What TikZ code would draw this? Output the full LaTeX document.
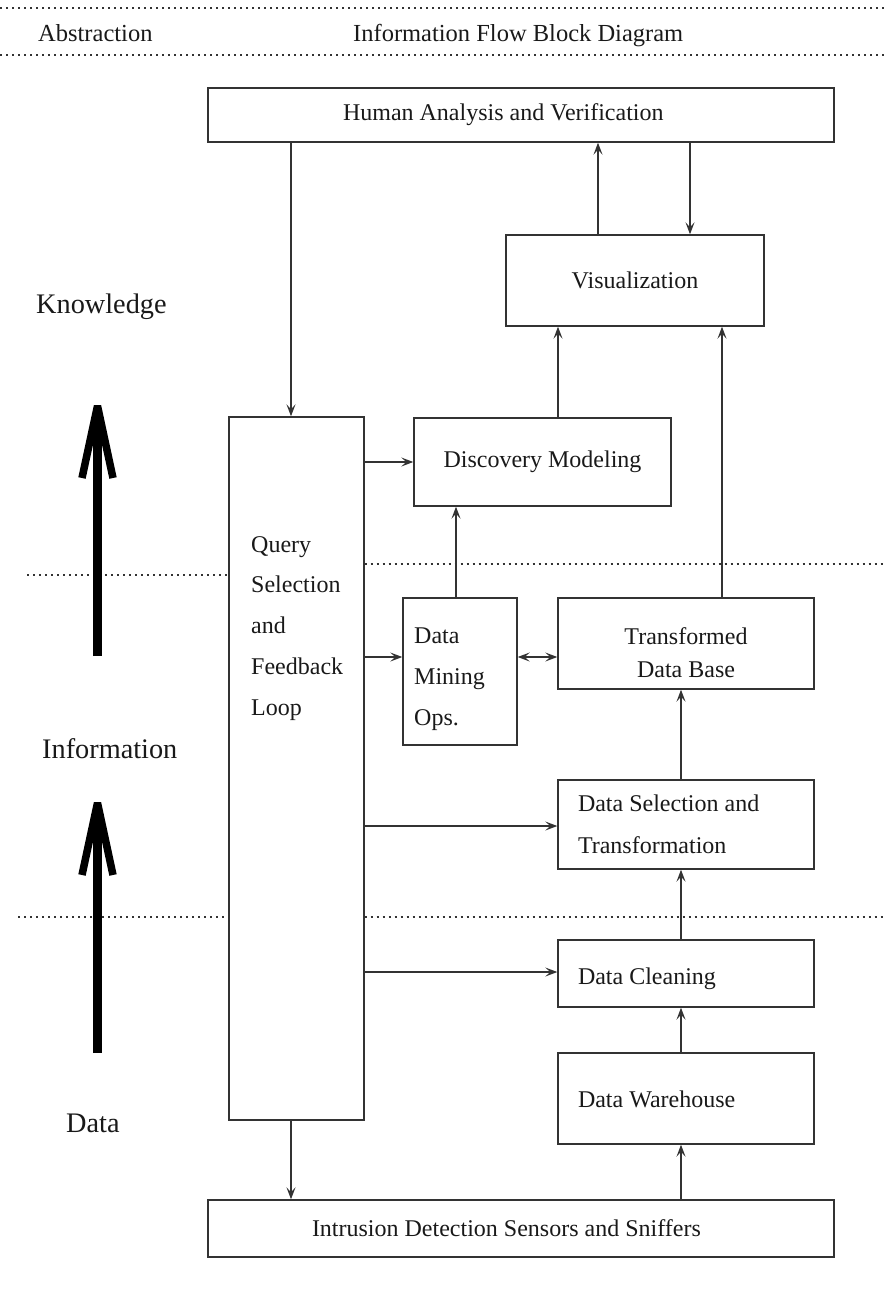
\documentclass[tikz,border=0pt]{standalone}
\usepackage{fontspec}
\setmainfont{Liberation Serif}
\usetikzlibrary{arrows.meta,calc}

\begin{document}
\begin{tikzpicture}[x=1pt,y=-1pt,
  every node/.style={text=black!90},
  tip/.tip={Stealth[length=12pt,width=9pt,inset=5pt]},
  blk/.style={draw=black!80, line width=1.4pt, rectangle, inner sep=0pt,
    font=\fontsize{24}{41}\selectfont},
  lblk/.style={blk, align=flush left},
  cblk/.style={blk, align=center},
  txt/.style={inner sep=0pt, font=\fontsize{24}{41}\selectfont},
  arr/.style={draw=black!80, line width=1.4pt, -tip},
  darr/.style={draw=black!80, line width=1.4pt, tip-tip},
  sep/.style={draw=black!80, line width=1.6pt, dash pattern=on 2.4pt off 3.6pt},
  bigshaft/.style={draw=black, line width=8.5pt, line cap=butt},
  bighead/.style={draw=black, line width=7.5pt, line cap=butt, line join=bevel},
  level/.style={font=\fontsize{28.3}{34}\selectfont, anchor=base west, inner sep=0pt},
  head/.style={font=\fontsize{24.5}{28}\selectfont, anchor=base west, inner sep=0pt}
]
\useasboundingbox (0,0) rectangle (885,1296);

% header rules and titles
\coordinate (hl0) at (0,8);   \coordinate (hr0) at (885,8);
\coordinate (hl1) at (0,55);  \coordinate (hr1) at (885,55);
\draw[sep] (hl0) -- (hr0);
\draw[sep] (hl1) -- (hr1);
\node[head] (habs) at (38,41) {Abstraction};
\node[head] (hifd) at (353,41) {Information Flow Block Diagram};

% blocks
\node[lblk, minimum width=626, minimum height=54, text width=356,
  inner xsep=135pt] (human) at (521,115) {Human Analysis and Verification};
\node[cblk, minimum width=258, minimum height=91, text height=19pt,
  text depth=4pt] (vis) at (635,280.5) {Visualization};
\node[cblk, minimum width=257, minimum height=88] (disc) at (542.5,462)
  {Discovery Modeling};
\node[blk, minimum width=135, minimum height=703] (query) at (296.5,768.5) {};
\node[txt, align=left, anchor=north west,
  font=\fontsize{24}{40.8}\selectfont] (qtext) at (251,536)
  {Query\\Selection\\and\\Feedback\\Loop};
\node[blk, minimum width=114, minimum height=147] (mining) at (460,671.5) {};
\node[txt, align=left, anchor=north west] (mtext) at (414,628)
  {Data\\Mining\\Ops.};
\node[blk, minimum width=256, minimum height=91] (tdb) at (686,643.5) {};
\node[txt, align=center, font=\fontsize{24}{33}\selectfont] (ttext)
  at ($(tdb.center)+(0,9)$) {Transformed\\Data Base};
\node[lblk, minimum width=256, minimum height=89, text width=216,
  inner xsep=20pt, font=\fontsize{24}{42}\selectfont] (dsel) at (686,824.5)
  {Data Selection and\\Transformation};
\node[lblk, minimum width=256, minimum height=67, text width=216,
  inner xsep=20pt, text height=22pt, text depth=0pt] (dclean) at (686,973.5)
  {Data Cleaning};
\node[lblk, minimum width=256, minimum height=91, text width=216,
  inner xsep=20pt, text height=20pt, text depth=2pt] (dware) at (686,1098.5)
  {Data Warehouse};
\node[lblk, minimum width=626, minimum height=57, text width=418,
  inner xsep=104pt] (ids) at (521,1228.5)
  {Intrusion Detection Sensors and Sniffers};

% level separators
\coordinate (s1a) at (27,575);  \coordinate (s1b) at (885,564);
\coordinate (s2a) at (18,917);  \coordinate (s2b) at (885,917);
\draw[sep] (s1a) -- (s1a -| query.west);
\draw[sep] (query.east |- s1b) -- (s1b);
\draw[sep] (s2a) -- (s2a -| query.west);
\draw[sep] (query.east |- s2b) -- (s2b);

% abstraction levels
\node[level] (lknow) at (36,313) {Knowledge};
\node[level] (linfo) at (42,758) {Information};
\node[level] (ldata) at (66,1132) {Data};

% thick upward arrows
\coordinate (a1b) at (97.5,656);  \coordinate (a1t) at (97.5,406);
\coordinate (a1l) at (82,478);    \coordinate (a1r) at (113,478);
\draw[bigshaft] (a1b) -- ($(a1t)+(0,6)$);
\draw[bighead] (a1l) -- (a1t) -- (a1r);
\coordinate (a2b) at (97.5,1053); \coordinate (a2t) at (97.5,803);
\coordinate (a2l) at (82,875);    \coordinate (a2r) at (113,875);
\draw[bigshaft] (a2b) -- ($(a2t)+(0,6)$);
\draw[bighead] (a2l) -- (a2t) -- (a2r);

% connector columns and rows
\coordinate (xq) at (291,0);
\coordinate (xv1) at (598,0);
\coordinate (xv2) at (690,0);
\coordinate (xd) at (558,0);
\coordinate (xt) at (722,0);
\coordinate (xm) at (456,0);
\coordinate (xr) at (681,0);
\coordinate (ym) at (0,657);
\coordinate (ys) at (0,826);
\coordinate (yc) at (0,972);

% information flow
\draw[arr] (human.south -| xq) -- (query.north -| xq);
\draw[arr] (vis.north -| xv1) -- (human.south -| xv1);
\draw[arr] (human.south -| xv2) -- (vis.north -| xv2);
\draw[arr] (disc.north -| xd) -- (vis.south -| xd);
\draw[arr] (tdb.north -| xt) -- (vis.south -| xt);
\draw[arr] (disc.west -| query.east) -- (disc.west);
\draw[arr] (mining.north -| xm) -- (disc.south -| xm);
\draw[arr] (query.east |- ym) -- (mining.west |- ym);
\draw[darr] (mining.east |- ym) -- (tdb.west |- ym);
\draw[arr] (dsel.north -| xr) -- (tdb.south -| xr);
\draw[arr] (query.east |- ys) -- (dsel.west |- ys);
\draw[arr] (dclean.north -| xr) -- (dsel.south -| xr);
\draw[arr] (query.east |- yc) -- (dclean.west |- yc);
\draw[arr] (dware.north -| xr) -- (dclean.south -| xr);
\draw[arr] (ids.north -| xr) -- (dware.south -| xr);
\draw[arr] (query.south -| xq) -- (ids.north -| xq);
\end{tikzpicture}
\end{document}
